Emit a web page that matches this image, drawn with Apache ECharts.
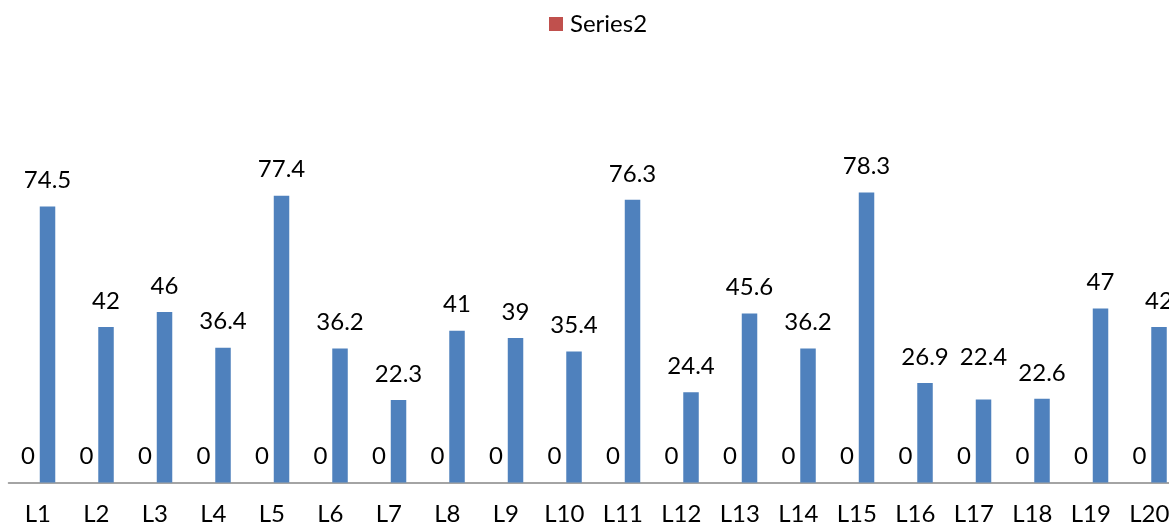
<!DOCTYPE html>
<html>
<head>
<meta charset="utf-8">
<script src="https://cdn.jsdelivr.net/npm/echarts@6/dist/echarts.min.js"></script>
<style>
html,body{margin:0;padding:0;background:#fff;}
#chart{width:1169px;height:526px;}
</style>
</head>
<body>
<div id="chart"></div>
<script>
var categories = ['L1','L2','L3','L4','L5','L6','L7','L8','L9','L10','L11','L12','L13','L14','L15','L16','L17','L18','L19','L20'];
var series2Values = [0,0,0,0,0,0,0,0,0,0,0,0,0,0,0,0,0,0,0,0];
var series1Values = [74.5,42,46,36.4,77.4,36.2,22.3,41,39,35.4,76.3,24.4,45.6,36.2,78.3,26.9,22.4,22.6,47,42];

var FONT = 'Lato, "Open Sans", sans-serif';
// one data label was lifted by hand in the original (L17)
var liftedLabel = 'L17';
var series1Data = series1Values.map(function (v, i) {
  if (categories[i] === liftedLabel) {
    return {value: v, label: {offset: [0, -16]}};
  }
  return v;
});

var chart = echarts.init(document.getElementById('chart'), null, {renderer:'canvas'});
chart.setOption({
  animation: false,
  backgroundColor: '#ffffff',
  legend: {
    data: ['Series2'],
    left: 549,
    top: 12,
    padding: 0,
    icon: 'rect',
    itemWidth: 14,
    itemHeight: 14,
    textStyle: {fontFamily: FONT, fontSize: 24, color: '#000', padding: [0,0,0,2]}
  },
  grid: {left: 8.5, top: 112, width: 1170, height: 370.6, containLabel: false, outerBoundsMode: 'none'},
  xAxis: {
    type: 'category',
    data: categories,
    axisLine: {show: true, lineStyle: {color: '#868686', width: 1.5}},
    axisTick: {show: false},
    axisLabel: {fontFamily: FONT, fontSize: 24, color: '#000', margin: 20, interval: 0}
  },
  yAxis: {
    type: 'value', min: 0, max: 100, show: false,
    splitLine: {show: false}
  },
  series: [
    {
      name: 'Series2', type: 'bar', data: series2Values,
      barWidth: 15.5, barGap: '26%',
      itemStyle: {color: '#C0504D'},
      label: {show: true, position: 'top', distance: 14, fontFamily: FONT, fontSize: 24, color: '#000'}
    },
    {
      name: 'Series1', type: 'bar', data: series1Data,
      barWidth: 15.5, barGap: '26%',
      itemStyle: {color: '#4F81BD'},
      label: {show: true, position: 'top', distance: 14, fontFamily: FONT, fontSize: 24, color: '#000'}
    }
  ]
});
</script>
</body>
</html>
